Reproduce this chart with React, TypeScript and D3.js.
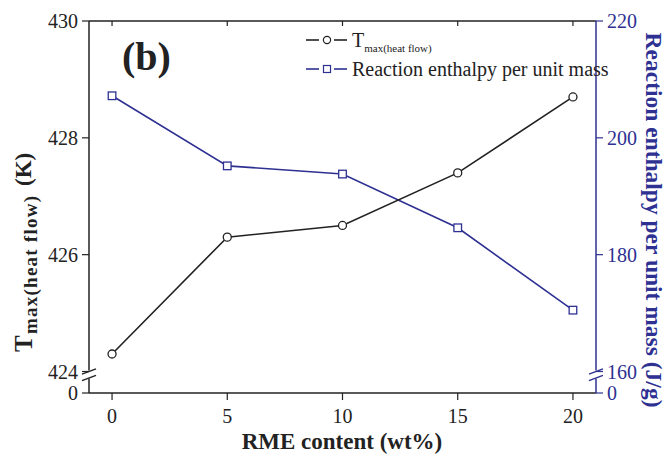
import React from "react";
import * as d3 from "d3";

const rmeContent = [0, 5, 10, 15, 20];
const tMax = [424.3, 426.3, 426.5, 427.4, 428.7];
const enthalpy = [207.2, 195.2, 193.8, 184.6, 170.5];
const xTicks = [0, 5, 10, 15, 20];
const leftTicks = [424, 426, 428, 430];
const rightTicks = [160, 180, 200, 220];

const W = 669;
const H = 456;
const BLUE = "#2e3192";
const FONT = "'Liberation Serif', 'Times New Roman', serif";

export default function App() {
  const left = 89, right = 596, top = 21, bottom = 393, breakY = 371.5;
  const x = d3.scaleLinear().domain([-1, 21]).range([left, right]);
  const yL = d3.scaleLinear().domain([424, 430]).range([breakY, top]);
  const yR = d3.scaleLinear().domain([160, 220]).range([breakY, top]);

  const lineT = d3.line<number>().x((_, i) => x(rmeContent[i])).y((d) => yL(d));
  const lineE = d3.line<number>().x((_, i) => x(rmeContent[i])).y((d) => yR(d));

  const gapTop = breakY - 1;
  const gapBot = 378.5;
  const slash = (cx: number, cy: number, color: string, key: string) => (
    <line key={key} x1={cx - 7} y1={cy + 2.6} x2={cx + 7} y2={cy - 2.6} stroke={color} strokeWidth={1.5} />
  );

  return (
    <svg width={W} height={H} style={{ position: "absolute", left: 0, top: 0, background: "#fff" }} fontFamily={FONT}>
      <rect x={0} y={0} width={W} height={H} fill="#fff" />
      {/* top border */}
      <line x1={left} y1={top} x2={right} y2={top} stroke="#222" strokeWidth={1.5} />
      {xTicks.map((t) => (
        <line key={"tt" + t} x1={x(t)} x2={x(t)} y1={top} y2={top + 5} stroke="#222" strokeWidth={1.2} />
      ))}
      {/* bottom axis */}
      <line x1={left} y1={bottom} x2={right} y2={bottom} stroke="#222" strokeWidth={1.5} />
      {xTicks.map((t) => (
        <g key={"bt" + t}>
          <line x1={x(t)} x2={x(t)} y1={bottom} y2={bottom + 7} stroke="#222" strokeWidth={1.2} />
          <text x={x(t)} y={bottom + 30} fontSize={20} textAnchor="middle" fill="#222">{t}</text>
        </g>
      ))}
      {/* left axis */}
      <line x1={left} x2={left} y1={top} y2={gapTop} stroke="#222" strokeWidth={1.5} />
      <line x1={left} x2={left} y1={gapBot} y2={bottom} stroke="#222" strokeWidth={1.5} />
      {slash(left, breakY, "#222", "ls1")}
      {slash(left, gapBot - 0.5, "#222", "ls2")}
      {leftTicks.map((t) => (
        <g key={"lt" + t}>
          <line x1={left - 7} x2={left} y1={yL(t)} y2={yL(t)} stroke="#222" strokeWidth={1.2} />
          <text x={left - 11} y={yL(t) + 7} fontSize={20} textAnchor="end" fill="#222">{t}</text>
        </g>
      ))}
      <line x1={left - 7} x2={left} y1={bottom} y2={bottom} stroke="#222" strokeWidth={1.2} />
      <text x={left - 11} y={bottom + 7} fontSize={20} textAnchor="end" fill="#222">0</text>
      {/* right axis */}
      <line x1={right} x2={right} y1={top} y2={gapTop} stroke={BLUE} strokeWidth={1.5} />
      <line x1={right} x2={right} y1={gapBot} y2={bottom} stroke={BLUE} strokeWidth={1.5} />
      {slash(right, breakY, BLUE, "rs1")}
      {slash(right, gapBot - 0.5, BLUE, "rs2")}
      {rightTicks.map((t) => (
        <g key={"rt" + t}>
          <line x1={right} x2={right + 7} y1={yR(t)} y2={yR(t)} stroke={BLUE} strokeWidth={1.2} />
          <text x={right + 11} y={yR(t) + 7} fontSize={20} textAnchor="start" fill={BLUE}>{t}</text>
        </g>
      ))}
      <line x1={right} x2={right + 7} y1={bottom} y2={bottom} stroke={BLUE} strokeWidth={1.2} />
      <text x={right + 11} y={bottom + 7} fontSize={20} textAnchor="start" fill={BLUE}>0</text>

      {/* series */}
      <path d={lineE(enthalpy) || ""} fill="none" stroke={BLUE} strokeWidth={1.6} />
      <path d={lineT(tMax) || ""} fill="none" stroke="#222" strokeWidth={1.6} />
      {enthalpy.map((v, i) => (
        <rect key={"s" + i} x={x(rmeContent[i]) - 3.8} y={yR(v) - 3.8} width={7.6} height={7.6} fill="#fff" stroke={BLUE} strokeWidth={1.3} />
      ))}
      {tMax.map((v, i) => (
        <circle key={"c" + i} cx={x(rmeContent[i])} cy={yL(v)} r={4} fill="#fff" stroke="#222" strokeWidth={1.3} />
      ))}

      {/* panel label */}
      <text x={122} y={70} fontSize={40} fontWeight="bold" fill="#222">(b)</text>

      {/* legend */}
      <line x1={306} x2={319} y1={40} y2={40} stroke="#222" strokeWidth={1.6} />
      <circle cx={327} cy={40} r={3.6} fill="#fff" stroke="#222" strokeWidth={1.2} />
      <line x1={334} x2={347} y1={40} y2={40} stroke="#222" strokeWidth={1.6} />
      <text x={352} y={47} fontSize={20} fill="#222">
        T<tspan fontSize={11} dy={5}>max(heat flow)</tspan>
      </text>
      <line x1={306} x2={319} y1={69} y2={69} stroke={BLUE} strokeWidth={1.6} />
      <rect x={323.5} y={65.5} width={7} height={7} fill="#fff" stroke={BLUE} strokeWidth={1.2} />
      <line x1={334} x2={347} y1={69} y2={69} stroke={BLUE} strokeWidth={1.6} />
      <text x={352} y={76} fontSize={20} fill="#222">Reaction enthalpy per unit mass</text>

      {/* left axis title */}
      <text transform={`translate(32,352) rotate(-90)`} textAnchor="start" fontSize={25} fontWeight="bold" fill="#222">T</text>
      <text transform={`translate(37,334) rotate(-90)`} textAnchor="start" fontSize={19} fontWeight="bold" fill="#222"
        textLength={138} lengthAdjust="spacing">max(heat flow)</text>
      <text transform={`translate(31,186) rotate(-90)`} textAnchor="start" fontSize={23} fontWeight="bold" fill="#222">(K)</text>

      {/* right axis title */}
      <text transform={`translate(646,220) rotate(90)`} textAnchor="middle" fontSize={23.5} fontWeight="bold" fill={BLUE}>
        Reaction enthalpy per unit mass (J/g)
      </text>
      <text x={342} y={449} textAnchor="middle" fontSize={23} fontWeight="bold" fill="#222">RME content (wt%)</text>
    </svg>
  );
}
